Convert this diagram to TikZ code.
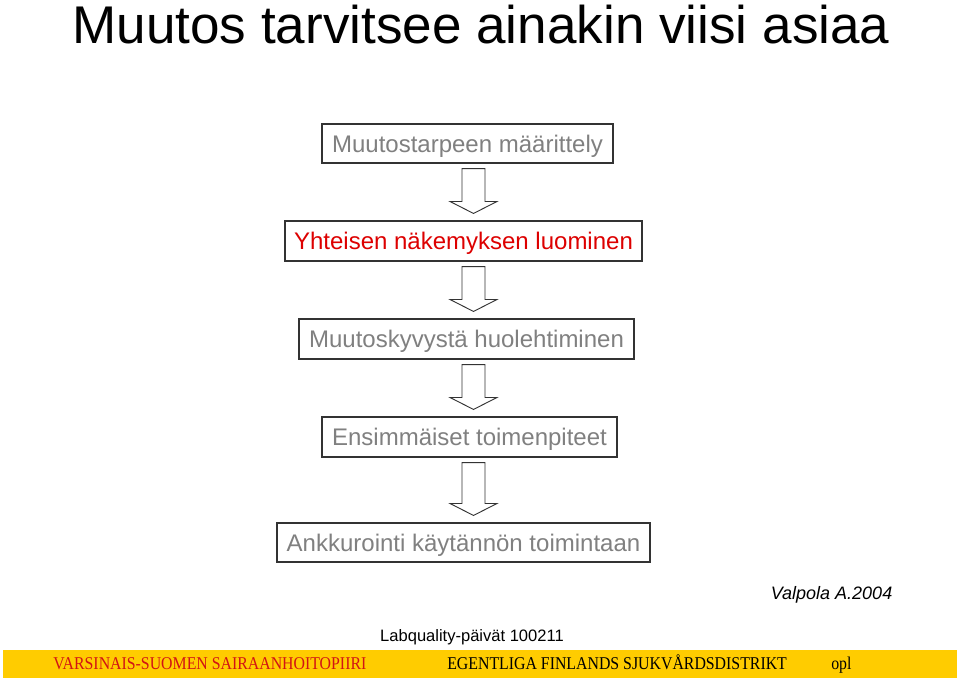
\documentclass[tikz,border=0pt]{standalone}
\usepackage{fontspec}
\setmainfont{Liberation Sans}
\newfontfamily\tnr[FakeStretch=0.88]{Liberation Serif}
\usetikzlibrary{calc}
\definecolor{boxgray}{RGB}{128,128,128}
\definecolor{boxred}{RGB}{221,0,0}
\definecolor{bary}{RGB}{255,204,0}
\definecolor{barred}{RGB}{210,20,20}
\tikzset{
  stepbox/.style={draw=black!80, line width=0.8pt, inner sep=0pt, text=boxgray,
    text height=12.9pt, text depth=0pt,
    font=\fontsize{18pt}{20pt}\selectfont},
  blockarr/.style={draw=black!80, line width=0.7pt, fill=white, line join=miter},
  bartext/.style={anchor=base west, inner sep=0pt, font=\tnr\fontsize{13.5pt}{15pt}\selectfont}
}
\newcommand{\blockarrow}[2]{%
  \path[blockarr] let \p1=(#1.south), \p2=(#2.north) in
    (355.125pt-8.625pt,\y1-3.75pt) -- (355.125pt+8.625pt,\y1-3.75pt)
    -- (355.125pt+8.625pt,\y2+14.25pt) -- (355.125pt+17.625pt,\y2+14.25pt)
    -- (355.125pt,\y2+5.25pt) -- (355.125pt-17.625pt,\y2+14.25pt)
    -- (355.125pt-8.625pt,\y2+14.25pt) -- cycle;}
\begin{document}
\begin{tikzpicture}[x=0.75pt,y=-0.75pt]
\useasboundingbox (0,0) rectangle (960,679);
\fill[white] (0,0) rectangle (960,679);
\node[anchor=base, font=\fontsize{39.8pt}{44pt}\selectfont] (title) at (481,43) {Muutos tarvitsee ainakin viisi asiaa};
\node[stepbox, minimum width=291*0.75pt, minimum height=39*0.75pt] (b1) at (467.5,143.5) {Muutostarpeen määrittely};
\node[stepbox, text=boxred, minimum width=357*0.75pt, minimum height=40*0.75pt] (b2) at (463.5,241) {Yhteisen näkemyksen luominen};
\node[stepbox, minimum width=335*0.75pt, minimum height=40*0.75pt] (b3) at (466.5,339) {Muutoskyvystä huolehtiminen};
\node[stepbox, minimum width=295*0.75pt, minimum height=40*0.75pt] (b4) at (469.5,437) {Ensimmäiset toimenpiteet};
\node[stepbox, minimum width=373*0.75pt, minimum height=39*0.75pt] (b5) at (463.5,542.5) {Ankkurointi käytännön toimintaan};
\blockarrow{b1}{b2}
\blockarrow{b2}{b3}
\blockarrow{b3}{b4}
\blockarrow{b4}{b5}
\node[anchor=base east, font=\itshape\fontsize{13.5pt}{15pt}\selectfont] (cite) at (897,599) {Valpola A.2004};
\node[anchor=base, font=\fontsize{12.4pt}{14pt}\selectfont] (lab) at (472,641) {Labquality-päivät 100211};
\fill[bary] (3,650) rectangle (957,678);
\node[bartext, text=barred] (vs) at (53,669.5) {VARSINAIS-SUOMEN SAIRAANHOITOPIIRI};
\node[bartext] (ef) at (447,669.5) {EGENTLIGA FINLANDS SJUKVÅRDSDISTRIKT};
\node[bartext] (opl) at (831,669.5) {opl};
\end{tikzpicture}
\end{document}
